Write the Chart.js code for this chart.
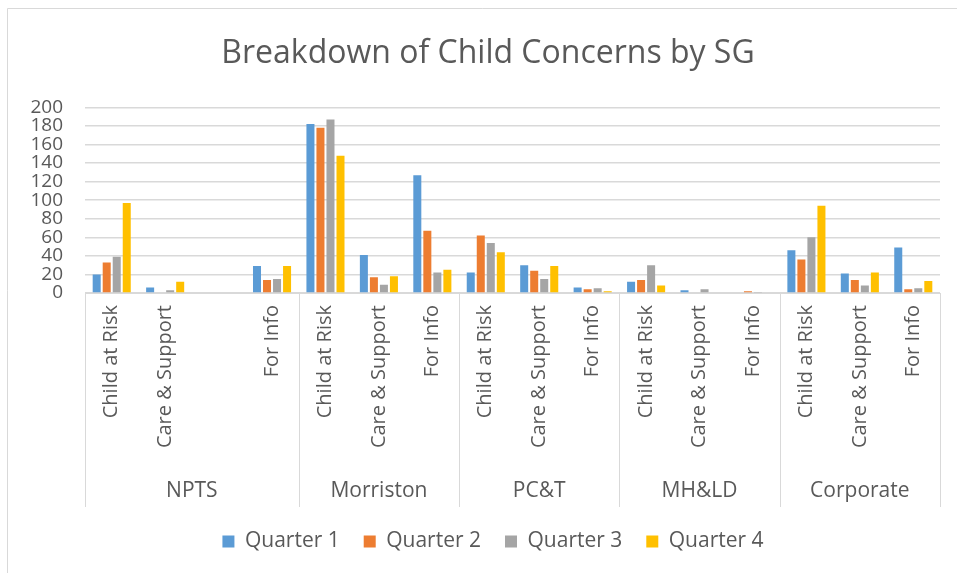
<!DOCTYPE html>
<html>
<head>
<meta charset="utf-8">
<title>Breakdown of Child Concerns by SG</title>
<script src="https://cdn.jsdelivr.net/npm/chart.js@4.4.0/dist/chart.umd.min.js"></script>
<style>
  html, body { margin: 0; padding: 0; background: #fff; }
  canvas { display: block; }
</style>
</head>
<body>
<canvas id="chart" width="957" height="573"></canvas>
<script>
// service groups and how many category slots each one has
const groups = ['NPTS', 'Morriston', 'PC&T', 'MH&LD', 'Corporate'];
const groupSizes = [4, 3, 3, 3, 3];

const categories = [
  'Child at Risk', 'Care & Support', '', 'For Info',
  'Child at Risk', 'Care & Support', 'For Info',
  'Child at Risk', 'Care & Support', 'For Info',
  'Child at Risk', 'Care & Support', 'For Info',
  'Child at Risk', 'Care & Support', 'For Info'
];

const quarter1 = [20, 6, 0, 29, 182, 41, 127, 22, 30, 6, 12, 3, 0, 46, 21, 49];
const quarter2 = [33, 0, 0, 14, 178, 17, 67, 62, 24, 4, 14, 0, 2, 36, 14, 4];
const quarter3 = [39, 3, 0, 15, 187, 9, 22, 54, 15, 5, 30, 4, 1, 60, 8, 5];
const quarter4 = [97, 12, 0, 29, 148, 18, 25, 44, 29, 2, 8, 0, 0, 94, 22, 13];

const seriesNames = ['Quarter 1', 'Quarter 2', 'Quarter 3', 'Quarter 4'];
const seriesColors = ['#5B9BD5', '#ED7D31', '#A5A5A5', '#FFC000'];

const FONT = "'Open Sans', 'DejaVu Sans', sans-serif";
const TEXT = '#595959';
const LINE = '#d9d9d9';

Chart.defaults.font.family = FONT;
Chart.defaults.color = TEXT;

// white background + the frame of the chart area
const frame = {
  id: 'frame',
  afterLayout(chart) {
    // Excel centres title and legend a bit right of the canvas middle
    chart.titleBlock.left += 36;
    chart.legend.left += 46;
  },
  beforeDraw(chart) {
    const { ctx, width, height } = chart;
    ctx.save();
    ctx.fillStyle = '#fff';
    ctx.fillRect(0, 0, width, height);
    ctx.strokeStyle = LINE;
    ctx.lineWidth = 1;
    ctx.beginPath();
    ctx.moveTo(7.5, height);
    ctx.lineTo(7.5, 8.5);
    ctx.lineTo(width, 8.5);
    ctx.stroke();
    ctx.restore();
  }
};

// second level of the category axis: group names and separators
const groupAxis = {
  id: 'groupAxis',
  afterDraw(chart) {
    const { ctx, chartArea } = chart;
    const x = chart.scales.x;
    const step = x.getPixelForValue(1) - x.getPixelForValue(0);
    const top = chartArea.bottom;
    const bottom = x.bottom;
    const labelY = top + 198;

    ctx.save();
    ctx.strokeStyle = LINE;
    ctx.lineWidth = 1;
    ctx.fillStyle = TEXT;
    ctx.font = `21px ${FONT}`;
    ctx.textAlign = 'center';
    ctx.textBaseline = 'middle';

    let start = 0;
    const first = Math.round(x.getPixelForValue(0) - step / 2) + 0.5;
    ctx.beginPath();
    ctx.moveTo(first, top);
    ctx.lineTo(first, bottom);
    ctx.stroke();

    groupSizes.forEach((n, g) => {
      const left = x.getPixelForValue(start) - step / 2;
      const right = x.getPixelForValue(start + n - 1) + step / 2;
      const px = Math.round(right) + 0.5;
      ctx.beginPath();
      ctx.moveTo(px, top);
      ctx.lineTo(px, bottom);
      ctx.stroke();
      ctx.fillText(groups[g], (left + right) / 2, labelY);
      start += n;
    });
    ctx.restore();
  }
};

const datasets = [quarter1, quarter2, quarter3, quarter4].map((values, i) => ({
  label: seriesNames[i],
  data: values,
  backgroundColor: seriesColors[i],
  borderWidth: 0,
  categoryPercentage: 0.75,
  barPercentage: 0.8
}));

new Chart(document.getElementById('chart'), {
  type: 'bar',
  data: { labels: categories, datasets },
  plugins: [frame, groupAxis],
  options: {
    responsive: false,
    animation: false,
    devicePixelRatio: 1,
    layout: { padding: { left: 0, right: 17, top: 0, bottom: 11 } },
    plugins: {
      title: {
        display: true,
        text: 'Breakdown of Child Concerns by SG',
        color: TEXT,
        font: { size: 32, weight: 'normal' },
        padding: { top: 35, bottom: 34 }
      },
      legend: {
        position: 'bottom',
        labels: {
          color: TEXT,
          font: { size: 21 },
          boxWidth: 12,
          boxHeight: 12,
          padding: 24
        }
      },
      tooltip: { enabled: false }
    },
    scales: {
      x: {
        grid: { display: false, drawTicks: false },
        border: { display: true, color: LINE },
        ticks: {
          autoSkip: false,
          minRotation: 90,
          maxRotation: 90,
          padding: 12,
          color: TEXT,
          font: { size: 20 }
        },
        afterFit(scale) { scale.height = 214; }
      },
      y: {
        min: 0,
        max: 200,
        grid: { color: LINE, lineWidth: 1.5, drawTicks: false },
        border: { display: false },
        ticks: {
          stepSize: 20,
          autoSkip: false,
          padding: 22,
          color: TEXT,
          font: { size: 19 }
        },
        afterFit(scale) { scale.width = 85; }
      }
    }
  }
});
</script>
</body>
</html>
